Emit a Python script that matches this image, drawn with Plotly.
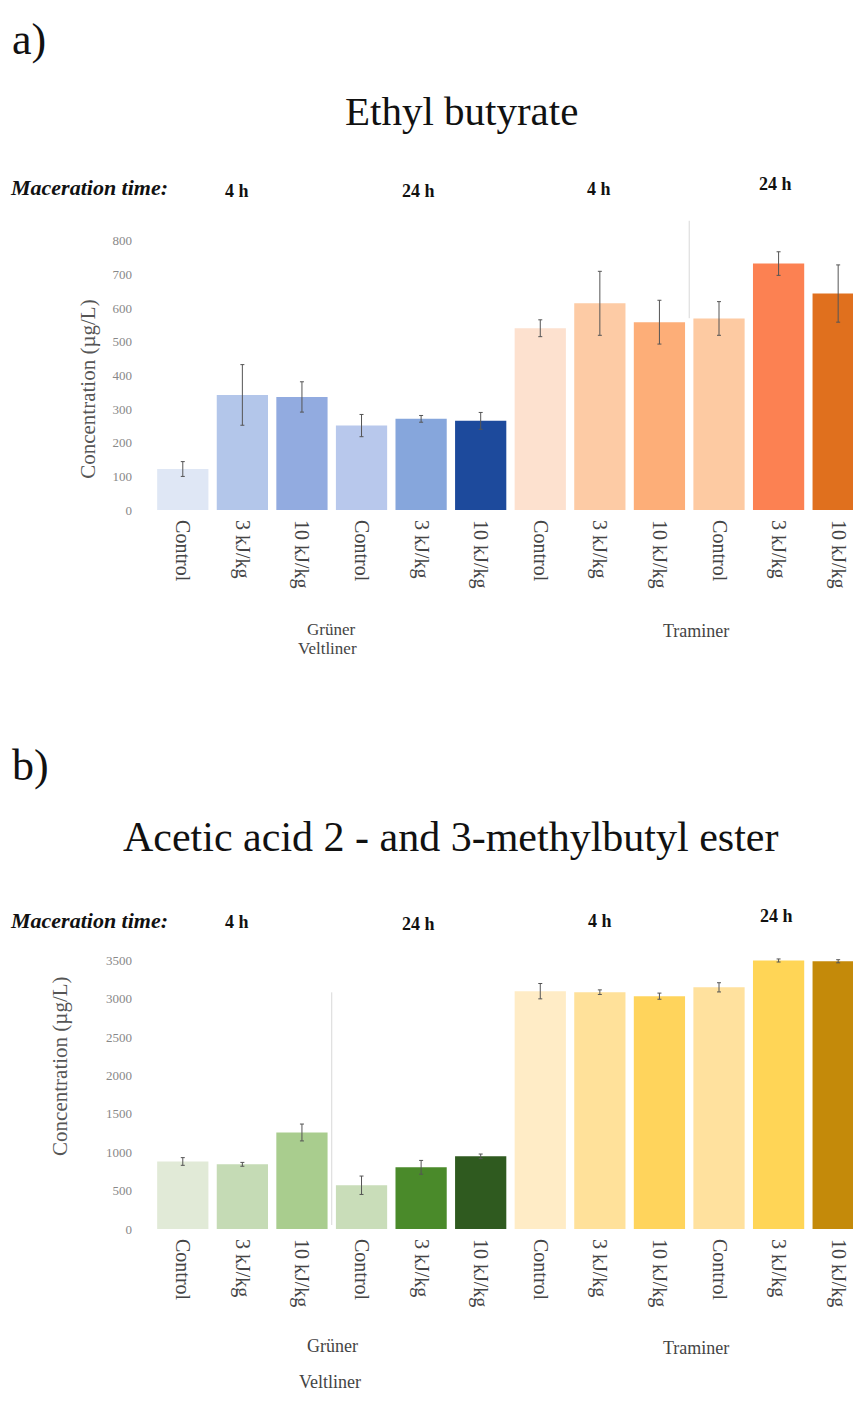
import plotly.graph_objects as go

W, H = 853, 1400
OFF = 8  # page body margin offset in the screenshot
STEP = 59.58  # pixel width of one category slot

categories = ["Control", "3 kJ/kg", "10 kJ/kg", "Control", "3 kJ/kg", "10 kJ/kg",
              "Control", "3 kJ/kg", "10 kJ/kg", "Control", "3 kJ/kg", "10 kJ/kg"]
positions = list(range(12))

ethyl_values = [122, 342, 336, 251, 271, 265, 540, 614, 558, 569, 732, 643]
ethyl_errors = [22, 90, 45, 33, 10, 25, 25, 95, 65, 50, 35, 85]
ethyl_colors = ["#dfe7f5", "#b3c6ea", "#92abe0", "#b8c8ec", "#86a6dc", "#1d4a9c",
                "#fde1cf", "#fdcba5", "#fdae78", "#fdcaa2", "#fc8152", "#e0701e"]

acetic_values = [880, 843, 1258, 570, 804, 947, 3100, 3087, 3035, 3150, 3500, 3490]
acetic_errors = [50, 25, 110, 120, 90, 30, 100, 30, 40, 60, 20, 20]
acetic_colors = ["#e1ead7", "#c5dbb5", "#a9cd8e", "#c9ddb9", "#4a8a2a", "#2f5a1f",
                 "#ffecc6", "#ffe19a", "#ffd45c", "#ffe19e", "#ffd556", "#c48a0a"]

ethyl_ticks = [0, 100, 200, 300, 400, 500, 600, 700, 800]
acetic_ticks = [0, 500, 1000, 1500, 2000, 2500, 3000, 3500]

SERIF = "Liberation Serif, Times New Roman, serif"


def py(p):
    return 1 - (p - OFF) / H


def px(p):
    return (p - OFF) / W


x_end = -0.5 + (W + OFF - 153) / STEP

fig = go.Figure()
fig.add_trace(go.Bar(
    x=positions, y=ethyl_values, width=0.86,
    marker=dict(color=ethyl_colors, line=dict(width=0)),
    error_y=dict(type="data", array=ethyl_errors, color="#555555", thickness=1, width=2),
    xaxis="x", yaxis="y", showlegend=False))
fig.add_trace(go.Bar(
    x=positions, y=acetic_values, width=0.86,
    marker=dict(color=acetic_colors, line=dict(width=0)),
    error_y=dict(type="data", array=acetic_errors, color="#555555", thickness=1, width=2),
    xaxis="x2", yaxis="y2", showlegend=False))

xcommon = dict(domain=[px(153), 1], range=[-0.5, x_end], tickmode="array",
               tickvals=positions, ticktext=categories, tickangle=90,
               tickfont=dict(family=SERIF, size=20, color="#444444"),
               showgrid=False, zeroline=False, showline=False, ticks="",
               ticklabelstandoff=9)
ycommon = dict(showgrid=False, zeroline=False, showline=False, ticks="",
               tickfont=dict(family=SERIF, size=13, color="#888888"),
               ticklabelstandoff=20)

fig.update_layout(
    width=W, height=H, margin=dict(l=0, r=0, t=0, b=0),
    paper_bgcolor="white", plot_bgcolor="rgba(0,0,0,0)",
    xaxis=dict(anchor="y", **xcommon),
    xaxis2=dict(anchor="y2", **xcommon),
    yaxis=dict(anchor="x", domain=[py(513), py(225)], range=[0, 850.2],
               tickvals=ethyl_ticks, **ycommon),
    yaxis2=dict(anchor="x2", domain=[py(1236), py(950)], range=[0, 3707],
                tickvals=acetic_ticks, **ycommon),
)

# faint separator lines
fig.add_shape(type="line", xref="x", yref="paper", x0=8.5, x1=8.5,
              y0=py(320), y1=py(222), line=dict(color="#d8d8d8", width=1))
fig.add_shape(type="line", xref="x2", yref="paper", x0=2.5, x1=2.5,
              y0=py(1232), y1=py(998), line=dict(color="#d8d8d8", width=1))


def ann(text, x, y, size, color="#111111", xanchor="center", angle=0, bold=False, italic=False):
    t = text
    if bold:
        t = "<b>" + t + "</b>"
    if italic:
        t = "<i>" + t + "</i>"
    fig.add_annotation(text=t, x=px(x), y=py(y), xref="paper", yref="paper",
                       xanchor=xanchor, yanchor="middle", showarrow=False,
                       textangle=angle, font=dict(family=SERIF, size=size, color=color))


# Panel a
ann("a)", 10, 40, 44, xanchor="left")
ann("Ethyl butyrate", 461, 112, 41)
ann("Maceration time:", 8, 189, 22, bold=True, italic=True, xanchor="left")
ann("4 h", 237, 192, 18, bold=True)
ann("24 h", 418, 192, 18, bold=True)
ann("4 h", 599, 190, 18, bold=True)
ann("24 h", 775, 185, 18, bold=True)
ann("Concentration (µg/L)", 88, 392, 21, color="#555555", angle=-90)
ann("Grüner", 331, 633, 17, color="#444444")
ann("Veltliner", 327, 652, 17, color="#444444")
ann("Traminer", 696, 635, 18, color="#444444")

# Panel b
ann("b)", 10, 770, 44, xanchor="left")
ann("Acetic acid 2 - and 3-methylbutyl ester", 450, 842, 42)
ann("Maceration time:", 8, 926, 22, bold=True, italic=True, xanchor="left")
ann("4 h", 237, 927, 18, bold=True)
ann("24 h", 418, 929, 18, bold=True)
ann("4 h", 600, 926, 18, bold=True)
ann("24 h", 776, 921, 18, bold=True)
ann("Concentration (µg/L)", 60, 1073, 21, color="#555555", angle=-90)
ann("Grüner", 332, 1354, 18, color="#444444")
ann("Veltliner", 330, 1390, 18, color="#444444")
ann("Traminer", 696, 1356, 18, color="#444444")

fig.write_html("out.html")
